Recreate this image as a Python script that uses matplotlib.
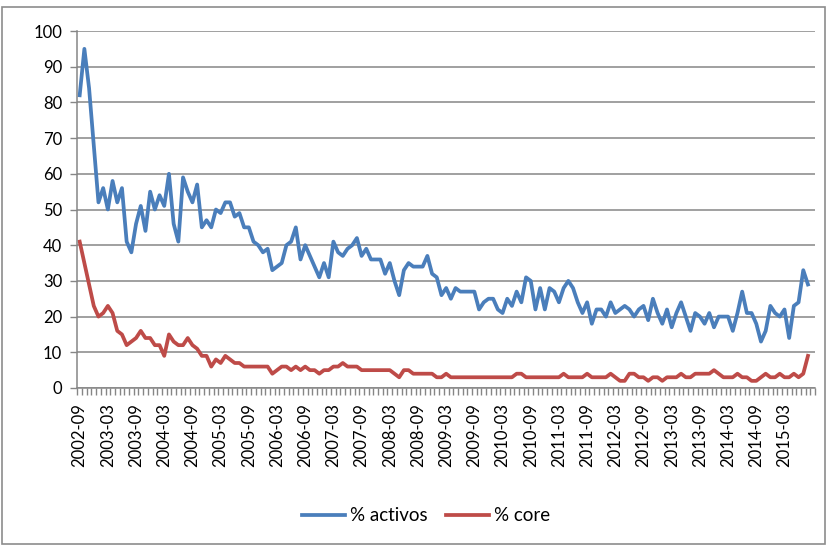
import numpy as np
import pandas as pd
import matplotlib.pyplot as plt
from matplotlib.patches import Rectangle
from matplotlib.ticker import FixedLocator

# monthly series, 2002-09 .. 2015-08
months = pd.period_range('2002-09', periods=156, freq='M').strftime('%Y-%m').tolist()

activos = [82, 95, 84, 68, 52, 56, 50, 58, 52, 56,
           41, 38, 46, 51, 44, 55, 50, 54, 51, 60,
           46, 41, 59, 55, 52, 57, 45, 47, 45, 50,
           49, 52, 52, 48, 49, 45, 45, 41, 40, 38,
           39, 33, 34, 35, 40, 41, 45, 36, 40, 37,
           34, 31, 35, 31, 41, 38, 37, 39, 40, 42,
           37, 39, 36, 36, 36, 32, 35, 30, 26, 33,
           35, 34, 34, 34, 37, 32, 31, 26, 28, 25,
           28, 27, 27, 27, 27, 22, 24, 25, 25, 22,
           21, 25, 23, 27, 24, 31, 30, 22, 28, 22,
           28, 27, 24, 28, 30, 28, 24, 21, 24, 18,
           22, 22, 20, 24, 21, 22, 23, 22, 20, 22,
           23, 19, 25, 21, 18, 22, 17, 21, 24, 20,
           16, 21, 20, 18, 21, 17, 20, 20, 20, 16,
           21, 27, 21, 21, 18, 13, 16, 23, 21, 20,
           22, 14, 23, 24, 33, 29]

core = [41, 35, 29, 23, 20, 21, 23, 21, 16, 15,
        12, 13, 14, 16, 14, 14, 12, 12, 9, 15,
        13, 12, 12, 14, 12, 11, 9, 9, 6, 8,
        7, 9, 8, 7, 7, 6, 6, 6, 6, 6,
        6, 4, 5, 6, 6, 5, 6, 5, 6, 5,
        5, 4, 5, 5, 6, 6, 7, 6, 6, 6,
        5, 5, 5, 5, 5, 5, 5, 4, 3, 5,
        5, 4, 4, 4, 4, 4, 3, 3, 4, 3,
        3, 3, 3, 3, 3, 3, 3, 3, 3, 3,
        3, 3, 3, 4, 4, 3, 3, 3, 3, 3,
        3, 3, 3, 4, 3, 3, 3, 3, 4, 3,
        3, 3, 3, 4, 3, 2, 2, 4, 4, 3,
        3, 2, 3, 3, 2, 3, 3, 3, 4, 3,
        3, 4, 4, 4, 4, 5, 4, 3, 3, 3,
        4, 3, 3, 2, 2, 3, 4, 3, 3, 4,
        3, 3, 4, 3, 4, 9]

plt.rcParams['font.family'] = ['Lato', 'DejaVu Sans']
grey = '#868686'

fig = plt.figure(figsize=(8.27, 5.46), dpi=100)
ax = fig.add_axes([0.0935, 0.2894, 0.8920, 0.6538])

x = np.arange(len(months))
ax.plot(x, activos, color='#4A7EBB', lw=2.7, label='% activos', solid_joinstyle='round')
ax.plot(x, core, color='#BE4B48', lw=2.7, label='% core', solid_joinstyle='round')

ax.set_ylim(0, 100)
ax.set_xlim(-0.5, len(months) + 0.5)
ax.set_yticks(range(0, 101, 10))
ax.grid(axis='y', color=grey, lw=1.1)
ax.set_axisbelow(True)

# labels every six months, tick marks between categories
ax.set_xticks(x[::6])
ax.set_xticklabels(months[::6], rotation=90)
ax.xaxis.set_minor_locator(FixedLocator(np.arange(-0.5, len(months) + 1, 1)))
ax.tick_params(axis='x', which='major', length=0, pad=11, labelsize=12)
ax.tick_params(axis='x', which='minor', length=5, color=grey, width=1)
ax.tick_params(axis='y', length=5, color=grey, width=1, labelsize=12, pad=6)

for s in ['top', 'right']:
    ax.spines[s].set_visible(False)
for s in ['left', 'bottom']:
    ax.spines[s].set_color(grey)
    ax.spines[s].set_linewidth(1.1)

fig.legend(loc='center', bbox_to_anchor=(0.515, 0.055), ncol=2, frameon=False,
           fontsize=13.5, handlelength=2.3, handletextpad=0.25, columnspacing=1.0)

fig.patches.append(Rectangle((0.002, 0.003), 0.996, 0.985, transform=fig.transFigure,
                             fill=False, edgecolor='#8c8c8c', lw=1.2))

fig.savefig('out.png', dpi=100)
